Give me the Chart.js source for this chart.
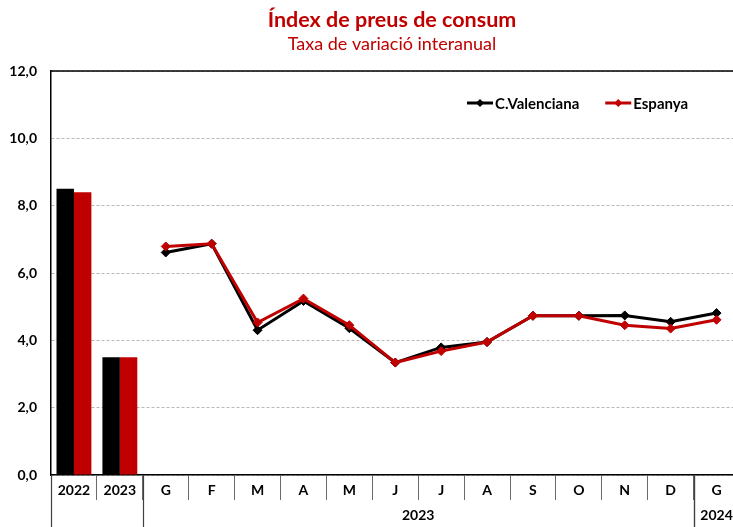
<!DOCTYPE html>
<html><head><meta charset="utf-8">
<script src="https://cdn.jsdelivr.net/npm/chart.js@4/dist/chart.umd.min.js"></script>
<style>
html,body{margin:0;padding:0;overflow:hidden;background:#fff;width:733px;height:527px}
canvas{display:block}
</style></head>
<body><canvas id="c" width="745" height="527"></canvas>
<script>
// ---- data ----
const titleText = 'Índex de preus de consum';
const subtitleText = 'Taxa de variació interanual';
const categories = ['2022','2023','G','F','M','A','M','J','J','A','S','O','N','D','G'];
const seriesNames = ['C.Valenciana','Espanya'];
const annualCV = [8.5, 3.5];
const annualES = [8.4, 3.5];
const monthlyCV = [6.61, 6.87, 4.30, 5.17, 4.36, 3.34, 3.79, 3.95, 4.73, 4.73, 4.74, 4.55, 4.81];
const monthlyES = [6.79, 6.87, 4.53, 5.24, 4.45, 3.34, 3.68, 3.95, 4.73, 4.73, 4.45, 4.35, 4.61];
const groupLabels = ['2023','2024'];
const groupStart = [2, 14];
const groupEnd = [13, 14];
const yTicks = [0, 2, 4, 6, 8, 10, 12];

// ---- styles ----
const BLACK = '#000000';
const RED = '#C00000';
const FONT = 'Lato';
const TICK_SIZE = 14;

const nMonths = monthlyCV.length;
const nAnnual = annualCV.length;
const barCV = annualCV.concat(new Array(nMonths).fill(null));
const barES = annualES.concat(new Array(nMonths).fill(null));
const lineCV = new Array(nAnnual).fill(null).concat(monthlyCV);
const lineES = new Array(nAnnual).fill(null).concat(monthlyES);

const fmt = v => v.toFixed(1).replace('.', ',');

const decor = {
  id: 'decor',
  afterDraw(chart) {
    const {ctx, chartArea: a, scales: {x}} = chart;
    const H = chart.height;
    ctx.save();
    // top frame
    ctx.strokeStyle = BLACK; ctx.lineWidth = 1.5;
    ctx.beginPath(); ctx.moveTo(a.left, a.top); ctx.lineTo(a.right, a.top); ctx.stroke();
    // group separators
    const bound = i => {
      if (i < 0) return a.left;
      if (i >= categories.length - 1) return a.right;
      return (x.getPixelForValue(i) + x.getPixelForValue(i + 1)) / 2;
    };
    ctx.strokeStyle = '#404040'; ctx.lineWidth = 1.2;
    const seps = [a.left];
    groupStart.forEach((s, k) => { seps.push(bound(s - 1)); seps.push(bound(groupEnd[k])); });
    seps.forEach(px => {
      ctx.beginPath(); ctx.moveTo(Math.round(px) + 0.5, a.bottom); ctx.lineTo(Math.round(px) + 0.5, H); ctx.stroke();
    });
    // group labels
    ctx.fillStyle = BLACK;
    ctx.font = 'bold ' + TICK_SIZE + 'px ' + FONT;
    ctx.textAlign = 'center'; ctx.textBaseline = 'middle';
    groupLabels.forEach((g, k) => {
      const cx = (bound(groupStart[k] - 1) + bound(groupEnd[k])) / 2;
      ctx.fillText(g, cx, a.bottom + 40);
    });
    // titles
    ctx.fillStyle = RED;
    ctx.textBaseline = 'alphabetic';
    ctx.font = 'bold 21.5px ' + FONT;
    ctx.fillText(titleText, 392, 27);
    ctx.font = '18px ' + FONT;
    ctx.fillText(subtitleText, 392, 50);
    // legend (line series)
    const items = [
      {label: seriesNames[0], color: BLACK},
      {label: seriesNames[1], color: RED}
    ];
    let lx = a.left + 416;
    const ly = a.top + 32;
    ctx.font = 'bold 15px ' + FONT;
    ctx.textAlign = 'left'; ctx.textBaseline = 'middle';
    items.forEach(it => {
      ctx.strokeStyle = it.color; ctx.fillStyle = it.color; ctx.lineWidth = 3;
      ctx.beginPath(); ctx.moveTo(lx, ly); ctx.lineTo(lx + 26, ly); ctx.stroke();
      const mx = lx + 13, r = 4;
      ctx.beginPath(); ctx.moveTo(mx, ly - r); ctx.lineTo(mx + r, ly); ctx.lineTo(mx, ly + r); ctx.lineTo(mx - r, ly); ctx.closePath(); ctx.fill();
      ctx.fillStyle = BLACK;
      ctx.fillText(it.label, lx + 28, ly + 1);
      lx += 28 + ctx.measureText(it.label).width + 26;
    });
    ctx.restore();
  }
};

new Chart(document.getElementById('c'), {
  data: {
    labels: categories,
    datasets: [
      {type: 'bar', label: seriesNames[0], data: barCV, backgroundColor: BLACK, order: 2,
       categoryPercentage: 0.76, barPercentage: 1.0},
      {type: 'bar', label: seriesNames[1], data: barES, backgroundColor: RED, order: 3,
       categoryPercentage: 0.76, barPercentage: 1.0},
      {type: 'line', label: seriesNames[1], data: lineES, borderColor: RED, backgroundColor: RED,
       borderWidth: 3, pointStyle: 'rectRot', pointRadius: 4.5, pointBorderWidth: 1,
       pointBackgroundColor: RED, pointBorderColor: RED, tension: 0, order: 0},
      {type: 'line', label: seriesNames[0], data: lineCV, borderColor: BLACK, backgroundColor: BLACK,
       borderWidth: 3, pointStyle: 'rectRot', pointRadius: 4.5, pointBorderWidth: 1,
       pointBackgroundColor: BLACK, pointBorderColor: BLACK, tension: 0, order: 1}
    ]
  },
  options: {
    responsive: false,
    animation: false,
    devicePixelRatio: 1,
    layout: {padding: {top: 71, right: 1, bottom: 0, left: 0}},
    plugins: {legend: {display: false}, tooltip: {enabled: false}, title: {display: false}},
    scales: {
      x: {
        type: 'category', offset: true,
        grid: {offset: true, drawOnChartArea: false, drawTicks: true, tickLength: 25, color: '#6a6a6a', lineWidth: 1},
        border: {display: true, color: BLACK, width: 1.5},
        ticks: {font: {family: FONT, weight: 'bold', size: TICK_SIZE}, color: BLACK, padding: -18, maxRotation: 0, autoSkip: false},
        afterFit(s) { s.height = 52; }
      },
      y: {
        min: 0, max: 12,
        afterBuildTicks(s) { s.ticks = yTicks.map(v => ({value: v})); },
        ticks: {font: {family: FONT, weight: 'bold', size: TICK_SIZE}, color: BLACK, padding: 14, callback: v => fmt(v)},
        grid: {color: '#b8b8b8', lineWidth: 1, drawTicks: false},
        border: {display: true, color: BLACK, width: 1.5, dash: [3, 2]},
        afterFit(s) { s.width = 51; }
      }
    }
  },
  plugins: [decor]
});
</script>
</body></html>
